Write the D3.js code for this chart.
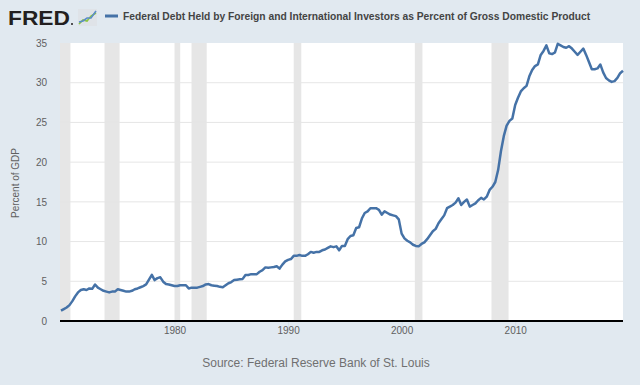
<!DOCTYPE html>
<html>
<head>
<meta charset="utf-8">
<script src="https://cdn.jsdelivr.net/npm/d3@7"></script>
<style>
  body { margin: 0; background: #e1e9f0; }
  svg { display: block; font-family: "Liberation Sans", Arial, sans-serif; }
</style>
</head>
<body>
<svg id="chart" width="640" height="385"></svg>
<script>
// quarterly values, 1970 Q1 .. 2019 Q3 (percent of GDP)
const startYear = 1970;
const debtPct = [
  1.3, 1.5, 1.7, 2.0,
  2.5, 3.1, 3.6, 3.9,
  4.0, 3.9, 4.1, 4.05,
  4.6, 4.2, 4.0, 3.8,
  3.7, 3.6, 3.7, 3.7,
  4.0, 3.9, 3.8, 3.7,
  3.7, 3.8, 4.0, 4.1,
  4.25, 4.4, 4.6, 5.2,
  5.8, 5.15, 5.4, 5.5,
  4.95, 4.65, 4.6, 4.5,
  4.4, 4.4, 4.5, 4.5,
  4.5, 4.1, 4.2, 4.2,
  4.2, 4.3, 4.4, 4.6,
  4.65, 4.5, 4.45, 4.4,
  4.3, 4.25, 4.5, 4.75,
  4.9, 5.15, 5.2, 5.25,
  5.3, 5.8, 5.8, 5.9,
  5.9, 5.9, 6.2, 6.4,
  6.75, 6.7, 6.75, 6.8,
  6.9, 6.6, 7.1, 7.5,
  7.7, 7.8, 8.2, 8.2,
  8.3, 8.2, 8.2, 8.4,
  8.7, 8.6, 8.7, 8.7,
  8.9, 9.0, 9.2, 9.4,
  9.3, 9.4, 8.9, 9.45,
  9.45, 10.3, 10.7, 10.8,
  11.7, 11.8, 12.9, 13.6,
  13.8, 14.2, 14.2, 14.2,
  14.0, 13.4, 13.8, 13.6,
  13.4, 13.3, 13.2, 12.8,
  11.0, 10.4, 10.1, 9.9,
  9.6, 9.45, 9.4, 9.7,
  9.9, 10.3, 10.8, 11.3,
  11.6, 12.3, 12.8, 13.3,
  14.2, 14.4, 14.6, 14.9,
  15.45, 14.6, 15.0, 15.3,
  14.4, 14.6, 14.8, 15.2,
  15.5, 15.3, 15.65, 16.5,
  16.9, 17.5, 19.0, 21.4,
  23.3, 24.6, 25.2, 25.5,
  27.2, 28.1, 28.9, 29.3,
  29.6, 30.8, 31.6, 32.1,
  32.3, 33.5, 34.0, 34.7,
  33.7, 33.6, 33.8, 34.9,
  34.7, 34.5, 34.4, 34.6,
  34.3, 33.9, 33.5, 33.9,
  34.3, 33.5, 32.6, 31.7,
  31.7, 31.8, 32.3, 31.3,
  30.6, 30.3, 30.1, 30.2,
  30.6, 31.2, 31.5
];

const recessions = [
  ["1969-12-01", "1970-11-01"],
  ["1973-11-01", "1975-03-01"],
  ["1980-01-01", "1980-07-01"],
  ["1981-07-01", "1982-11-01"],
  ["1990-07-01", "1991-03-01"],
  ["2001-03-01", "2001-11-01"],
  ["2007-12-01", "2009-06-01"]
];

const xTickYears = [1980, 1990, 2000, 2010];
const yTicks = [0, 5, 10, 15, 20, 25, 30, 35];
const titleText = "Federal Debt Held by Foreign and International Investors as Percent of Gross Domestic Product";

const svg = d3.select("#chart");
const parse = d3.timeParse("%Y-%m-%d");

let data = debtPct.map((v, i) => ({
  date: new Date(startYear + Math.floor(i / 4), (i % 4) * 3, 1),
  value: v
}));

const plotL = 60, plotR = 623, plotT = 43, plotB = 321;

const x = d3.scaleTime()
  .domain(d3.extent(data, d => d.date))
  .range([plotL + 1, plotR]);
const y = d3.scaleLinear().domain([0, 35]).range([plotB, plotT]);

// plot background
svg.append("rect")
  .attr("x", plotL).attr("y", plotT)
  .attr("width", plotR - plotL).attr("height", plotB - plotT)
  .attr("fill", "#ffffff");

// recession bars
svg.append("g").selectAll("rect")
  .data(recessions)
  .join("rect")
  .attr("x", d => Math.max(plotL, x(parse(d[0]))))
  .attr("y", plotT)
  .attr("width", d => x(parse(d[1])) - Math.max(plotL, x(parse(d[0]))))
  .attr("height", plotB - plotT)
  .attr("fill", "#e6e6e6");

// gridlines
svg.append("g").selectAll("line")
  .data(yTicks.filter(t => t > 0 && t < 35))
  .join("line")
  .attr("x1", plotL).attr("x2", plotR)
  .attr("y1", d => y(d)).attr("y2", d => y(d))
  .attr("stroke", "#e6e6e6")
  .attr("stroke-width", 1);

// y axis labels
const yAxis = svg.append("g")
  .attr("transform", `translate(${plotL - 13},0)`)
  .call(d3.axisLeft(y).tickValues(yTicks).tickSize(0).tickPadding(0));
yAxis.select(".domain").remove();
yAxis.selectAll("text")
  .attr("font-size", 10)
  .attr("font-family", "Liberation Sans, Arial, sans-serif")
  .attr("fill", "#606060");

// x axis
const xAxis = svg.append("g")
  .attr("transform", `translate(0,${plotB})`)
  .call(d3.axisBottom(x)
    .tickValues(xTickYears.map(yr => new Date(yr, 0, 1)))
    .tickFormat(d3.timeFormat("%Y"))
    .tickSize(10)
    .tickPadding(5));
xAxis.select(".domain").remove();
xAxis.selectAll("line").attr("stroke", "#d5dee8");
xAxis.selectAll("text")
  .attr("font-size", 10)
  .attr("font-family", "Liberation Sans, Arial, sans-serif")
  .attr("fill", "#606060")
  .attr("dy", "-0.2em");

svg.append("line")
  .attr("x1", plotL).attr("x2", plotR)
  .attr("y1", plotB).attr("y2", plotB)
  .attr("stroke", "#000")
  .attr("stroke-width", 2);

// the series
const line = d3.line()
  .x(d => x(d.date))
  .y(d => y(d.value));

svg.append("path")
  .datum(data)
  .attr("d", line)
  .attr("fill", "none")
  .attr("stroke", "#4572a7")
  .attr("stroke-width", 2.5)
  .attr("stroke-linejoin", "round");

// y axis title
svg.append("text")
  .attr("transform", "translate(19,183) rotate(-90)")
  .attr("text-anchor", "middle")
  .attr("font-size", 10)
  .attr("fill", "#606060")
  .text("Percent of GDP");

// source
svg.append("text")
  .attr("x", 316).attr("y", 367)
  .attr("text-anchor", "middle")
  .attr("font-size", 12)
  .attr("fill", "#707070")
  .text("Source: Federal Reserve Bank of St. Louis");

// FRED logo
svg.append("text")
  .attr("x", 8).attr("y", 25)
  .attr("font-size", 21)
  .attr("font-weight", "bold")
  .attr("fill", "#231f20")
  .attr("textLength", 62)
  .attr("lengthAdjust", "spacingAndGlyphs")
  .text("FRED");
svg.append("circle").attr("cx", 72).attr("cy", 24).attr("r", 1).attr("fill", "#231f20");

const icon = svg.append("g").attr("transform", "translate(78,9)");
icon.append("rect").attr("width", 19).attr("height", 17).attr("fill", "#dfe3e8");
icon.append("polyline")
  .attr("points", "1,15 5,11 9,12 13,7 18,4")
  .attr("fill", "none").attr("stroke", "#8cc63f").attr("stroke-width", 1.6);
icon.append("polyline")
  .attr("points", "1,13 5,12 9,9 13,9 18,2")
  .attr("fill", "none").attr("stroke", "#5b8cc8").attr("stroke-width", 1.6);

// legend
svg.append("line")
  .attr("x1", 105).attr("x2", 118)
  .attr("y1", 16).attr("y2", 16)
  .attr("stroke", "#4572a7").attr("stroke-width", 3);

const title = svg.append("text")
  .attr("x", 123).attr("y", 20)
  .attr("font-size", 11)
  .attr("font-weight", "bold")
  .attr("fill", "#444444")
  .text(titleText);
const tl = title.node().getComputedTextLength();
title.attr("font-size", 11 * 468 / tl);
</script>
</body>
</html>
